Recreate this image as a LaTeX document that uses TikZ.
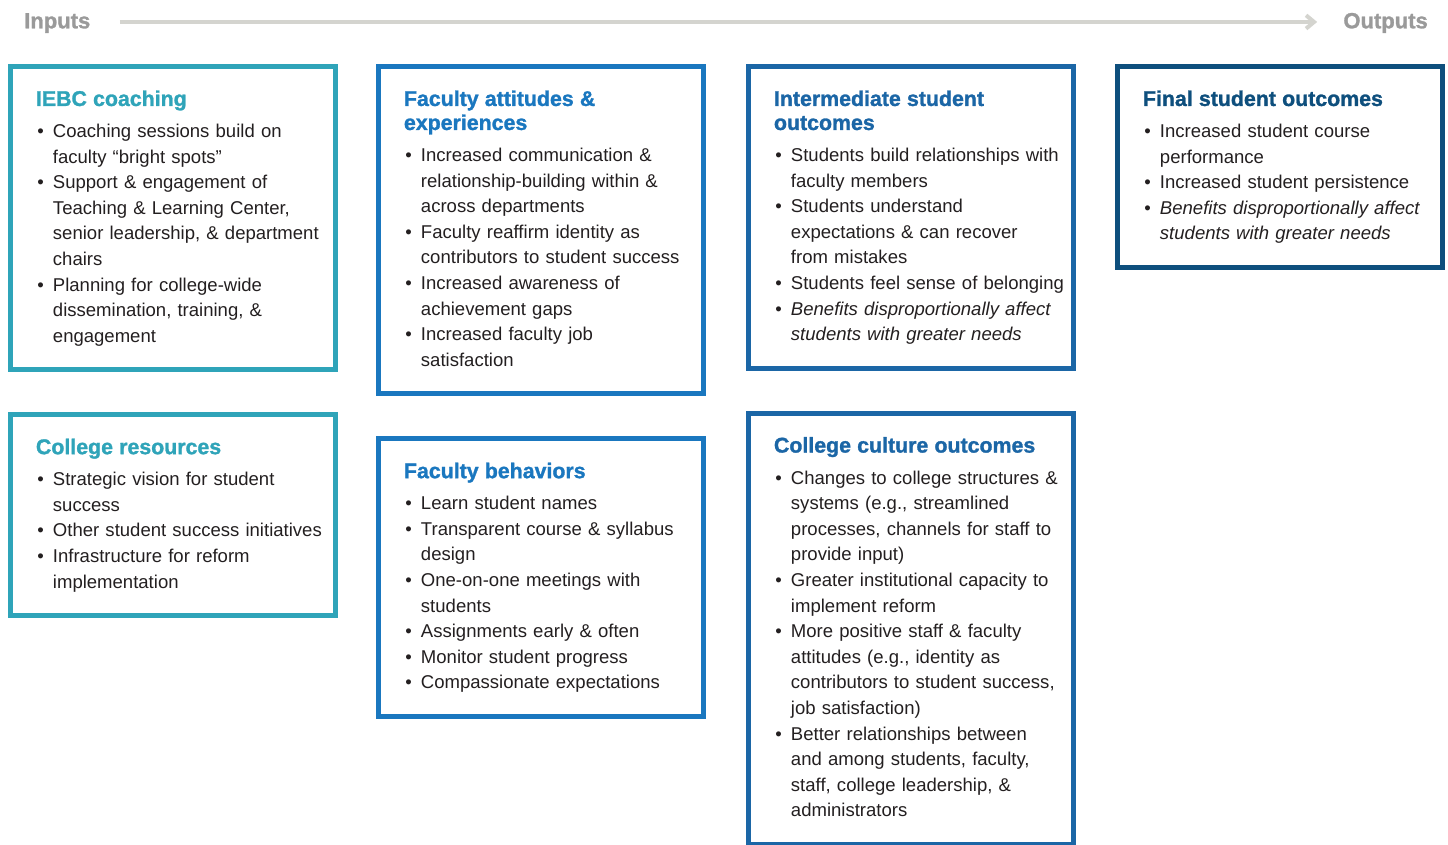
\documentclass[tikz,border=0pt]{standalone}
\usepackage{fontspec}
\setmainfont{Liberation Sans}
\newfontfamily\heavyfont[FakeBold=1.3]{Liberation Sans Bold}
\usetikzlibrary{positioning,arrows.meta}

\definecolor{coachteal}{HTML}{2FA4B9}
\definecolor{facultyblue}{HTML}{1A77BF}
\definecolor{studentblue}{HTML}{1B66A6}
\definecolor{finalnavy}{HTML}{0E4F7D}
\definecolor{ink}{HTML}{231F20}
\definecolor{railgray}{HTML}{D4D4CF}
\definecolor{labelgray}{HTML}{9A9A9A}

\newcommand{\bodyfont}{\fontsize{13.9pt}{19.2pt}\selectfont}
\newcommand{\titlefont}{\fontsize{16pt}{18pt}\selectfont\heavyfont}
% box heading, then a little extra room before the bullets
\newcommand{\heading}[2]{{\titlefont\noindent\color{#1}\rule{0pt}{14.6pt}#2\par}\vspace{4.5pt}}
% one bullet, wrapped lines hang under the text (break lines with \newline);
% the paragraph is closed here so the hang survives in the last item too
\newcommand{\point}[1]{\par\noindent\hangindent=12.75pt\hangafter=1%
    \makebox[12.75pt][l]{\hspace{1pt}\textbullet}#1\rule[-5.5pt]{0pt}{5.5pt}\par}

\tikzset{
    box/.style={draw=#1, line width=3.75pt, anchor=north west,
        text width=237.75pt, inner xsep=3pt, inner ysep=15pt,
        text=ink, font=\bodyfont,
        execute at begin node={\leftskip=16.1pt\parindent=0pt}},
    ends/.style={font=\fontsize{16.5pt}{18pt}\selectfont\heavyfont, text=labelgray,
        inner sep=0pt, text height=12pt, text depth=2.5pt},
    flow/.style={draw=railgray, line width=3pt,
        -{Straight Barb[length=6pt,width=10pt]}}
}

\begin{document}
\begin{tikzpicture}[x=0.75pt,y=-0.75pt]

        \path[use as bounding box, fill=white] (0,0) rectangle (1448,844);

        % Inputs ---> Outputs
        \node[ends, anchor=base west] (inputs) at (24,28.3) {Inputs};
        \node[ends, anchor=base east] (outputs) at (1428,28.3) {Outputs};
        \draw[flow, shorten <=22pt, shorten >=19.5pt] (inputs) -- (outputs);

        % IEBC coaching
        \node[box=coachteal] (iebc) at (8,64) {%
            \heading{coachteal}{IEBC coaching}
            \point{Coaching sessions build on\newline faculty “bright spots”}
            \point{Support \& engagement of\newline Teaching \& Learning Center,\newline senior leadership, \& department\newline chairs}
            \point{Planning for college-wide\newline dissemination, training, \&\newline engagement}};

        % College resources
        \node[box=coachteal, below=30pt of iebc.south west, anchor=north west] (resources) {%
            \heading{coachteal}{College resources}
            \point{Strategic vision for student\newline success}
            \point{Other student success initiatives}
            \point{Infrastructure for reform\newline implementation}};

        % Faculty attitudes & experiences
        \node[box=facultyblue] (attitudes) at (376,64) {%
            \heading{facultyblue}{Faculty attitudes \&\newline experiences}
            \point{Increased communication \&\newline relationship-building within \&\newline across departments}
            \point{Faculty reaffirm identity as\newline contributors to student success}
            \point{Increased awareness of\newline achievement gaps}
            \point{Increased faculty job\newline satisfaction}};

        % Faculty behaviors
        \node[box=facultyblue, below=30pt of attitudes.south west, anchor=north west] (behaviors) {%
            \heading{facultyblue}{Faculty behaviors}
            \point{Learn student names}
            \point{Transparent course \& syllabus\newline design}
            \point{One-on-one meetings with\newline students}
            \point{Assignments early \& often}
            \point{Monitor student progress}
            \point{Compassionate expectations}};

        % Intermediate student outcomes
        \node[box=studentblue] (intermediate) at (746,64) {%
            \heading{studentblue}{Intermediate student\newline outcomes}
            \point{Students build relationships with\newline faculty members}
            \point{Students understand\newline expectations \& can recover\newline from mistakes}
            \point{Students feel sense of belonging}
            \point{\itshape Benefits disproportionally affect\newline students with greater needs}};

        % College culture outcomes
        \node[box=studentblue, below=30pt of intermediate.south west, anchor=north west] (culture) {%
            \heading{studentblue}{College culture outcomes}
            \point{Changes to college structures \&\newline systems (e.g., streamlined\newline processes, channels for staff to\newline provide input)}
            \point{Greater institutional capacity to\newline implement reform}
            \point{More positive staff \& faculty\newline attitudes (e.g., identity as\newline contributors to student success,\newline job satisfaction)}
            \point{Better relationships between\newline and among students, faculty,\newline staff, college leadership, \&\newline administrators}};

        % Final student outcomes
        \node[box=finalnavy] (final) at (1115,64) {%
            \heading{finalnavy}{Final student outcomes}
            \point{Increased student course\newline performance}
            \point{Increased student persistence}
            \point{\itshape Benefits disproportionally affect\newline students with greater needs}};

    \end{tikzpicture}
\end{document}
